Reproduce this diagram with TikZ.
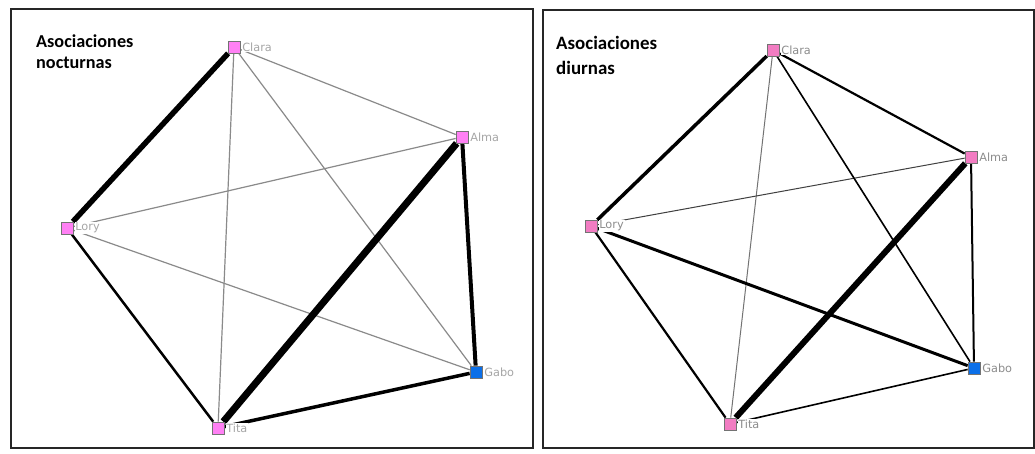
\documentclass[tikz,border=0pt]{standalone}
\usepackage{fontspec}
\setmainfont{Carlito}
\newfontfamily\lblfont{DejaVu Sans}
\usetikzlibrary{backgrounds}
\definecolor{pinkL}{HTML}{FF80F4}
\definecolor{pinkR}{HTML}{F27CC2}
\definecolor{gaboblue}{HTML}{0B6FE8}
\definecolor{lblgrayL}{HTML}{A6A6A6}
\definecolor{lblgrayR}{HTML}{8C8C8C}
\definecolor{edgegray}{HTML}{8A8A8A}
\begin{document}
\begin{tikzpicture}[x=1pt,y=-1pt,
  person/.style={draw=black!55,fill=#1,minimum size=12pt,inner sep=0pt,line width=0.7pt},
  lblL/.style={anchor=west,text=lblgrayL,fill=white,font=\lblfont\fontsize{11.3}{13}\selectfont,inner sep=0.8pt},
  lblR/.style={anchor=west,text=lblgrayR,fill=white,font=\lblfont\fontsize{11.3}{13}\selectfont,inner sep=0.8pt},
  ttlL/.style={anchor=north west,align=left,inner sep=0pt,font=\bfseries\fontsize{18.2}{20.5}\selectfont},
  ttlR/.style={anchor=north west,align=left,inner sep=0pt,font=\bfseries\fontsize{18.9}{24.7}\selectfont},
  panel/.style={draw=black!85,line width=2pt},
  thinL/.style={draw=edgegray,line width=1.2pt},
  tie/.style={draw=black,line width=#1}]
\useasboundingbox (0,0) rectangle (1035,454);

% panels
\draw[panel] (10.5,9.5) rectangle (533,448);
\draw[panel] (543,10.5) rectangle (1034,448);

% titles
\node[ttlL] (tL) at (36,35) {Asociaciones\\nocturnas};
\node[ttlR] (tR) at (556,36) {Asociaciones\\diurnas};

% left nodes
\node[person=pinkL] (lClara) at (234,47) {};
\node[person=pinkL] (lAlma) at (462,137) {};
\node[person=pinkL] (lLory) at (67,228) {};
\node[person=gaboblue] (lGabo) at (476,372) {};
\node[person=pinkL] (lTita) at (218,428) {};
\node[lblL] (lClaraT) at ([xshift=1pt]lClara.east) {Clara};
\node[lblL] (lAlmaT) at ([xshift=1pt]lAlma.east) {Alma};
\node[lblL] (lLoryT) at ([xshift=1pt]lLory.east) {Lory};
\node[lblL] (lGaboT) at ([xshift=1pt]lGabo.east) {Gabo};
\node[lblL] (lTitaT) at ([xshift=1pt]lTita.east) {Tita};

% right nodes
\node[person=pinkR] (rClara) at (773,50) {};
\node[person=pinkR] (rAlma) at (971,157) {};
\node[person=pinkR] (rLory) at (591,226) {};
\node[person=gaboblue] (rGabo) at (974,368) {};
\node[person=pinkR] (rTita) at (730,424) {};
\node[lblR] (rClaraT) at ([xshift=1pt]rClara.east) {Clara};
\node[lblR] (rAlmaT) at ([xshift=1pt]rAlma.east) {Alma};
\node[lblR] (rLoryT) at ([xshift=1pt]rLory.east) {Lory};
\node[lblR] (rGaboT) at ([xshift=1pt]rGabo.east) {Gabo};
\node[lblR] (rTitaT) at ([xshift=1pt]rTita.east) {Tita};

\begin{scope}[on background layer]
\fill[white] (0,0) rectangle (1035,454);
% left edges
\draw[thinL] (lClara) -- (lAlma);
\draw[thinL] (lClara) -- (lTita);
\draw[thinL] (lClara) -- (lGabo);
\draw[thinL] (lAlma) -- (lLory);
\draw[thinL] (lLory) -- (lGabo);
\draw[tie=5.5pt] (lClara) -- (lLory);
\draw[tie=7pt] (lAlma) -- (lTita);
\draw[tie=4pt] (lAlma) -- (lGabo);
\draw[tie=3.5pt] (lTita) -- (lGabo);
\draw[tie=2.5pt] (lLory) -- (lTita);
% right edges
\draw[draw=black!55,line width=1pt] (rClara) -- (rTita);
\draw[draw=black!75,line width=1pt] (rAlma) -- (rLory);
\draw[tie=1.6pt] (rClara) -- (rGabo);
\draw[tie=1.6pt] (rTita) -- (rGabo);
\draw[tie=2.2pt] (rClara) -- (rAlma);
\draw[tie=2.2pt] (rLory) -- (rTita);
\draw[tie=2pt] (rAlma) -- (rGabo);
\draw[tie=3pt] (rLory) -- (rGabo);
\draw[tie=3.5pt] (rClara) -- (rLory);
\draw[tie=6pt] (rAlma) -- (rTita);
\end{scope}
\end{tikzpicture}
\end{document}
